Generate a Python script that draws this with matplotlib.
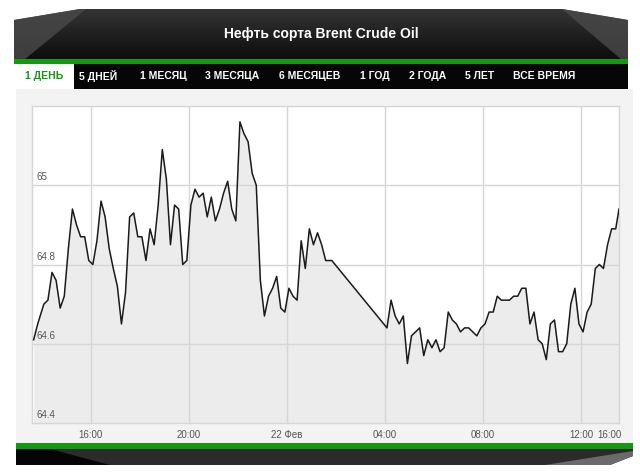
import numpy as np
import matplotlib
matplotlib.use("Agg")
import matplotlib.pyplot as plt
import matplotlib.patches as mpatches
import pandas as pd

plt.rcParams['font.family'] = ['Liberation Sans', 'DejaVu Sans']

# price data (day, time, price)
times = [
    "21 13:40", "21 13:50", "21 14:05", "21 14:15", "21 14:25", "21 14:35", "21 14:45", "21 14:55",
    "21 15:05", "21 15:15", "21 15:25", "21 15:35", "21 15:45", "21 15:55", "21 16:05", "21 16:15",
    "21 16:25", "21 16:35", "21 16:45", "21 16:55", "21 17:05", "21 17:15", "21 17:25", "21 17:35",
    "21 17:45", "21 17:55", "21 18:05", "21 18:15", "21 18:25", "21 18:35", "21 18:45", "21 18:55",
    "21 19:05", "21 19:15", "21 19:25", "21 19:35", "21 19:45", "21 19:55", "21 20:05", "21 20:15",
    "21 20:25", "21 20:35", "21 20:45", "21 20:55", "21 21:05", "21 21:15", "21 21:25", "21 21:35",
    "21 21:45", "21 21:55", "21 22:05", "21 22:15", "21 22:25", "21 22:35", "21 22:45", "21 22:55",
    "21 23:05", "21 23:15", "21 23:25", "21 23:35", "21 23:45", "21 23:55", "22 00:05", "22 00:15",
    "22 00:25", "22 00:35", "22 00:45", "22 00:55", "22 01:05", "22 01:15", "22 01:25", "22 01:35",
    "22 01:50", "22 04:05", "22 04:15", "22 04:25", "22 04:35", "22 04:45", "22 04:55", "22 05:05",
    "22 05:15", "22 05:25", "22 05:35", "22 05:45", "22 05:55", "22 06:05", "22 06:15", "22 06:25",
    "22 06:35", "22 06:45", "22 06:55", "22 07:05", "22 07:15", "22 07:25", "22 07:35", "22 07:45",
    "22 07:55", "22 08:05", "22 08:15", "22 08:25", "22 08:35", "22 08:45", "22 08:55", "22 09:05",
    "22 09:15", "22 09:25", "22 09:35", "22 09:45", "22 09:55", "22 10:05", "22 10:15", "22 10:25",
    "22 10:35", "22 10:45", "22 10:55", "22 11:05", "22 11:15", "22 11:25", "22 11:35", "22 11:45",
    "22 11:55", "22 12:05", "22 12:15", "22 12:25", "22 12:35", "22 12:45", "22 12:55", "22 13:05",
    "22 13:15", "22 13:25", "22 13:33",
]
prices = [
    64.61, 64.65, 64.70, 64.71, 64.78, 64.76, 64.69, 64.72,
    64.84, 64.94, 64.90, 64.87, 64.87, 64.81, 64.80, 64.86,
    64.96, 64.92, 64.84, 64.79, 64.745, 64.65, 64.73, 64.92,
    64.93, 64.87, 64.87, 64.81, 64.89, 64.85, 64.95, 65.09,
    65.015, 64.85, 64.95, 64.94, 64.80, 64.81, 64.95, 64.99,
    64.97, 64.98, 64.92, 64.97, 64.91, 64.94, 64.98, 65.01,
    64.94, 64.91, 65.16, 65.13, 65.11, 65.03, 65.00, 64.76,
    64.67, 64.72, 64.74, 64.77, 64.69, 64.68, 64.74, 64.72,
    64.71, 64.86, 64.79, 64.89, 64.85, 64.88, 64.85, 64.81,
    64.81, 64.64, 64.71, 64.67, 64.65, 64.67, 64.55, 64.62,
    64.63, 64.64, 64.57, 64.61, 64.59, 64.61, 64.58, 64.59,
    64.68, 64.66, 64.65, 64.63, 64.64, 64.64, 64.63, 64.62,
    64.64, 64.65, 64.68, 64.68, 64.72, 64.71, 64.71, 64.71,
    64.72, 64.72, 64.74, 64.74, 64.65, 64.68, 64.61, 64.60,
    64.56, 64.65, 64.66, 64.58, 64.58, 64.60, 64.70, 64.74,
    64.65, 64.63, 64.68, 64.70, 64.79, 64.80, 64.79, 64.85,
    64.89, 64.89, 64.94,
]

title = "Нефть сорта Brent Crude Oil"
tabs = ["1 ДЕНЬ", "5 ДНЕЙ", "1 МЕСЯЦ", "3 МЕСЯЦА", "6 МЕСЯЦЕВ", "1 ГОД", "2 ГОДА", "5 ЛЕТ", "ВСЕ ВРЕМЯ"]
tab_x = [44, 98, 163, 232, 310, 375, 428, 480, 544]

y_ticks = [64.4, 64.6, 64.8, 65.0]
y_labels = ["64.4", "64.6", "64.8", "65"]
grid_times = ["21 16:00", "21 20:00", "22 00:00", "22 04:00", "22 08:00", "22 12:00"]
x_tick_times = grid_times + ["22 13:09"]
x_labels = ["16:00", "20:00", "22 Фев", "04:00", "08:00", "12:00", "16:00"]

def to_dt(lst):
    return pd.to_datetime(["2019-02-" + s for s in lst], format="%Y-%m-%d %H:%M")

t = to_dt(times)

fig = plt.figure(figsize=(6.4, 4.73), dpi=100)
fig.patch.set_facecolor("white")

# frame decorations in pixel coordinates
bg = fig.add_axes([0, 0, 1, 1], zorder=0)
bg.set_xlim(0, 640)
bg.set_ylim(473, 0)
bg.axis("off")

head = mpatches.Polygon([(14, 20), (80, 9), (562, 9), (628, 20), (628, 60), (14, 60)],
                        closed=True, facecolor="none", edgecolor="none")
bg.add_patch(head)
grad = np.linspace(0, 1, 100).reshape(-1, 1)
im = bg.imshow(grad, extent=[14, 628, 60, 9], cmap=matplotlib.colors.LinearSegmentedColormap.from_list(
    "h", ["#343434", "#0c0c0c"]), aspect="auto", zorder=1)
im.set_clip_path(head)
bg.add_patch(mpatches.Polygon([(14, 20), (80, 9), (86, 9), (24, 60), (14, 60)],
                              facecolor="#4a4a4a", edgecolor="none", alpha=0.8, zorder=2))
bg.add_patch(mpatches.Polygon([(562, 9), (628, 20), (628, 60), (622, 60)],
                              facecolor="#4a4a4a", edgecolor="none", alpha=0.8, zorder=2))
bg.add_patch(mpatches.Rectangle((14, 59), 614, 5, facecolor="#119a11", edgecolor="none", zorder=3))
bg.add_patch(mpatches.Rectangle((14, 64), 614, 25, facecolor="#060606", edgecolor="none", zorder=3))
bg.add_patch(mpatches.Rectangle((14, 64), 60, 25, facecolor="white", edgecolor="none", zorder=4))
bg.add_patch(mpatches.Rectangle((16, 89), 617, 354, facecolor="#f3f3f3", edgecolor="none", zorder=3))
bg.add_patch(mpatches.Rectangle((16, 443), 617, 6, facecolor="#119a11", edgecolor="none", zorder=3))
bg.add_patch(mpatches.Polygon([(16, 449), (633, 449), (633, 456), (610, 465), (16, 465)],
                              facecolor="#2b2b2b", edgecolor="none", zorder=3))
bg.add_patch(mpatches.Polygon([(16, 449), (50, 449), (110, 465), (16, 465)],
                              facecolor="#050505", edgecolor="none", zorder=4))
bg.add_patch(mpatches.Polygon([(545, 465), (633, 451), (633, 456), (610, 465)],
                              facecolor="#6a6a6a", edgecolor="none", zorder=4))

bg.text(321, 34, title, color="white", fontsize=10, fontweight="bold",
        ha="center", va="center", zorder=5)
for i, (lab, xp) in enumerate(zip(tabs, tab_x)):
    bg.text(xp, 76, lab, color="#119a11" if i == 0 else "white", fontsize=7.5,
            fontweight="bold", ha="center", va="center", zorder=5)

# chart
ax = fig.add_axes([32 / 640, 1 - 423 / 473, 587 / 640, 317 / 473], zorder=1)
ax.set_facecolor("white")
ax.fill_between(t, prices, 64.4, color="#ececec", lw=0, zorder=1)
ax.plot(t, prices, color="#1a1a1a", lw=1.1, zorder=3)

for g in to_dt(grid_times):
    ax.axvline(g, color="#d6d6d6", lw=1, zorder=2)
for v in y_ticks[1:]:
    ax.axhline(v, color="#d6d6d6", lw=1, zorder=2)

ax.set_xlim(to_dt(["21 13:36"])[0], to_dt(["22 13:33"])[0])
ax.set_ylim(64.4, 65.2)
ax.set_yticks([])
ax.set_xticks(to_dt(x_tick_times))
ax.set_xticklabels(x_labels, fontsize=7, color="#555555")
ax.tick_params(axis="x", length=0, pad=5)
for s in ax.spines.values():
    s.set_color("#d6d6d6")
    s.set_linewidth(1)

for v, lab in zip(y_ticks, y_labels):
    ax.annotate(lab, xy=(0, v), xycoords=ax.get_yaxis_transform(), xytext=(3, 3.5),
                textcoords="offset points", fontsize=7, color="#555555",
                ha="left", va="baseline", zorder=4)

fig.savefig("out.png", dpi=100, facecolor="white")
